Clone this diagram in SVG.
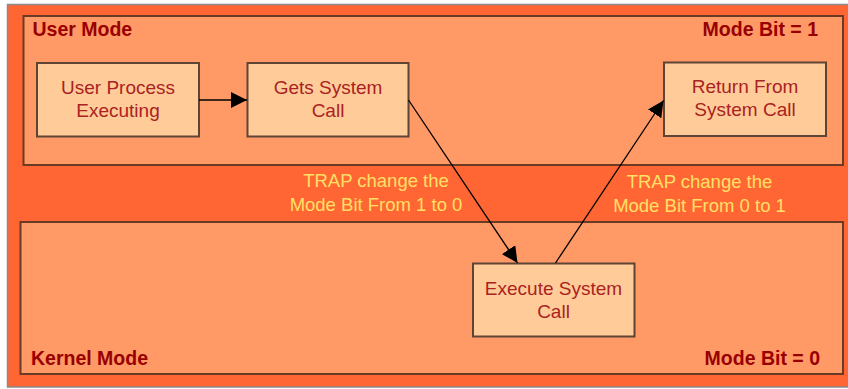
<svg xmlns="http://www.w3.org/2000/svg" width="848" height="389" viewBox="0 0 848 389">
  <style>
    .mode { fill: #FF9966; stroke: #6B3A24; stroke-width: 2; }
    .box { fill: #FFCC99; stroke: #5E4434; stroke-width: 2; }
    .title { font-family: "Liberation Sans", Arial, sans-serif; font-weight: bold; font-size: 19.5px; fill: #990000; }
    .label { font-family: "Liberation Sans", Arial, sans-serif; font-size: 19px; fill: #AA2222; text-anchor: middle; }
    .trap { font-family: "Liberation Sans", Arial, sans-serif; font-size: 18.5px; fill: #FFE066; text-anchor: middle; }
    .conn { stroke: #000; stroke-width: 1.3; fill: none; marker-end: url(#arrow); }
  </style>
  <defs>
    <marker id="arrow" markerUnits="userSpaceOnUse" markerWidth="16" markerHeight="16" refX="16" refY="8" orient="auto">
      <path d="M0,0 L16,8 L0,16 z" fill="#000"/>
    </marker>
  </defs>

  <rect width="848" height="389" fill="#FFFFFF"/>
  <!-- outer frame -->
  <rect x="7.5" y="4.5" width="845" height="382.5" fill="#FF6633" stroke="#8A8A8A" stroke-width="1.5"/>

  <!-- mode regions -->
  <g id="user-mode">
    <rect class="mode" x="23.5" y="16" width="819.5" height="149"/>
    <text class="title" x="32.5" y="36">User Mode</text>
    <text class="title" x="818" y="36" text-anchor="end">Mode Bit = 1</text>
  </g>
  <g id="kernel-mode">
    <rect class="mode" x="20.5" y="222" width="822.5" height="152"/>
    <text class="title" x="31" y="364.5">Kernel Mode</text>
    <text class="title" x="820" y="365" text-anchor="end">Mode Bit = 0</text>
  </g>

  <!-- nodes -->
  <g id="user-process">
    <rect class="box" x="37" y="63" width="162" height="73.5"/>
    <text class="label" x="118" y="93.5">User Process</text>
    <text class="label" x="118" y="116.5">Executing</text>
  </g>
  <g id="gets-system-call">
    <rect class="box" x="247.5" y="63" width="161" height="73.5"/>
    <text class="label" x="328" y="93.5">Gets System</text>
    <text class="label" x="328" y="116.5">Call</text>
  </g>
  <g id="return-from-system-call">
    <rect class="box" x="664" y="62.5" width="162" height="73.5"/>
    <text class="label" x="745" y="93">Return From</text>
    <text class="label" x="745" y="115.5">System Call</text>
  </g>
  <g id="execute-system-call">
    <rect class="box" x="473" y="263.5" width="161.5" height="73"/>
    <text class="label" x="553.5" y="295">Execute System</text>
    <text class="label" x="553.5" y="318">Call</text>
  </g>

  <!-- transition labels -->
  <g id="trap-labels">
    <text class="trap" x="376" y="187">TRAP change the</text>
    <text class="trap" x="376" y="210.5">Mode Bit From 1 to 0</text>
    <text class="trap" x="699.5" y="188">TRAP change the</text>
    <text class="trap" x="699.5" y="211.5">Mode Bit From 0 to 1</text>
  </g>

  <!-- connectors -->
  <g id="connectors">
    <line class="conn" x1="199" y1="100" x2="247" y2="100"/>
    <line class="conn" x1="408.5" y1="100" x2="517.5" y2="263"/>
    <line class="conn" x1="555.5" y1="263" x2="663.5" y2="100.5"/>
  </g>
</svg>
